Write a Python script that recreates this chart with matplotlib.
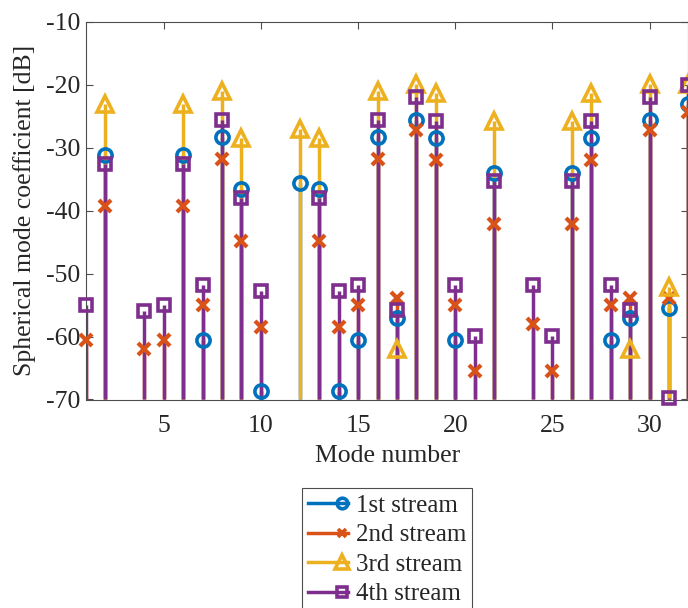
import numpy as np
import matplotlib
matplotlib.use("Agg")
import matplotlib.pyplot as plt
from matplotlib.lines import Line2D
from matplotlib.legend_handler import HandlerBase

plt.rcParams["font.family"] = ["Liberation Serif", "DejaVu Serif"]
plt.rcParams["axes.unicode_minus"] = False

nan = np.nan
modes = np.arange(1, 33)

stream1 = [nan, -31.2, nan, nan, nan, -31.2, -60.5, -28.3, -36.6, -68.7,
           nan, -35.6, -36.5, -68.7, -60.5, -28.3, -57.1, -25.6, -28.5, -60.5,
           nan, -34.0, nan, nan, nan, -34.0, -28.5, -60.5, -57.1, -25.6,
           -55.4, -23.0]
stream2 = [-60.5, -39.3, nan, -62.0, -60.5, -39.3, -55.0, -31.7, -44.8, -58.4,
           nan, nan, -44.8, -58.4, -55.0, -31.7, -53.9, -27.2, -31.9, -55.0,
           -65.4, -42.1, nan, -58.0, -65.4, -42.1, -31.9, -55.0, -53.9, -27.2,
           -53.8, -24.3]
stream3 = [nan, -23.0, nan, nan, nan, -23.0, nan, -21.0, -28.5, nan,
           nan, -27.0, -28.4, nan, nan, -21.0, -62.0, -19.9, -21.3, nan,
           nan, -25.7, nan, nan, nan, -25.7, -21.3, nan, -62.0, -19.9,
           -52.1, -19.8]
stream4 = [-55.0, -32.5, nan, -56.0, -55.0, -32.5, -51.8, -25.5, -37.9, -52.8,
           nan, nan, -37.9, -52.8, -51.8, -25.5, -55.8, -21.9, -25.7, -51.8,
           -59.9, -35.3, nan, -51.8, -59.9, -35.3, -25.7, -51.8, -55.8, -21.9,
           -69.8, -20.0]

labels = ["1st stream", "2nd stream", "3rd stream", "4th stream"]
series = [stream1, stream2, stream3, stream4]
colors = ["#0072BD", "#D95319", "#EDB120", "#7E2F8E"]
markers = ["o", "x", "^", "s"]
msizes = [9.5, 8, 12, 8.5]

ymin, ymax = -70, -10
fs = 18.5

fig = plt.figure(figsize=(6.88, 6.08), dpi=100)
ax = fig.add_axes([86 / 688, 1 - 399.5 / 608, 602.5 / 688, 377.5 / 608])

# stems first, rising from the lower axis limit
for vals, c in zip(series, colors):
    v = np.asarray(vals, float)
    ok = ~np.isnan(v)
    ax.vlines(modes[ok], ymin, v[ok], colors=c, linewidth=2.5, zorder=2)

# then the hollow markers on top
for vals, c, m, ms in zip(series, colors, markers, msizes):
    v = np.asarray(vals, float)
    ok = ~np.isnan(v)
    mew = 3.0 if m == "x" else 2.6
    ax.plot(modes[ok], v[ok], linestyle="none", marker=m, markersize=ms,
            markerfacecolor="none", markeredgecolor=c, markeredgewidth=mew,
            clip_on=False, zorder=3)

ax.set_xlim(1, 32)
ax.set_ylim(ymin, ymax)
ax.set_xticks([5, 10, 15, 20, 25, 30])
ax.set_yticks(np.arange(-70, -9, 10))
ax.tick_params(direction="in", length=5, width=0.8, colors="#4d4d4d",
               labelcolor="#262626", labelsize=fs, top=True, right=True)
ax.tick_params(axis="y", pad=4)
ax.tick_params(axis="x", pad=11)
for s in ax.spines.values():
    s.set_color("#4d4d4d")
    s.set_linewidth(0.8)

ax.set_xlabel("Mode number", fontsize=fs, color="#262626", labelpad=6)
ax.set_ylabel("Spherical mode coefficient [dB]", fontsize=fs, color="#262626",
              labelpad=7)


class StemKey(HandlerBase):
    def create_artists(self, legend, orig, xd, yd, w, h, fsz, trans):
        y = h / 2 - yd
        line = Line2D([-xd, -xd + w], [y, y], color=orig.get_markeredgecolor(),
                      linewidth=2.5, transform=trans)
        mk = Line2D([-xd + w * 0.85], [y], linestyle="none",
                    marker=orig.get_marker(), markersize=orig.get_markersize() * 0.8,
                    markerfacecolor="none", markeredgecolor=orig.get_markeredgecolor(),
                    markeredgewidth=2.6, transform=trans)
        return [line, mk]


handles = [Line2D([], [], marker=m, markersize=ms, markeredgecolor=c,
                  markerfacecolor="none")
           for c, m, ms in zip(colors, markers, msizes)]
leg = fig.legend(handles, labels, loc="upper center",
                 bbox_to_anchor=(387 / 688, 1 - 488 / 608),
                 handler_map={Line2D: StemKey()}, fontsize=18,
                 handlelength=1.6, handletextpad=0.3, labelspacing=0.28,
                 borderpad=0.25, borderaxespad=0, fancybox=False,
                 framealpha=1, edgecolor="#4d4d4d")
leg.get_frame().set_linewidth(0.8)
for t in leg.get_texts():
    t.set_color("#262626")

fig.savefig("out.png", dpi=100)
